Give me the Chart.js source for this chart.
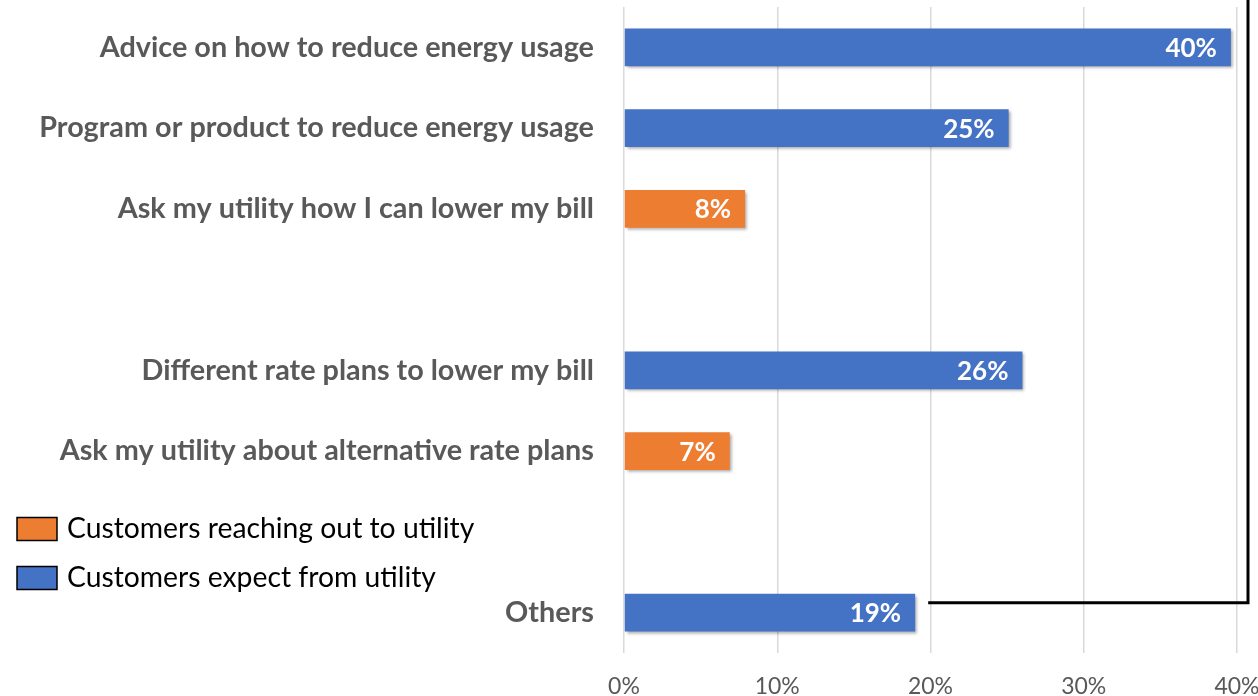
<!DOCTYPE html>
<html>
<head>
<meta charset="utf-8">
<script src="https://cdn.jsdelivr.net/npm/chart.js@4/dist/chart.umd.min.js"></script>
<style>
  html, body { margin: 0; padding: 0; background: #fff; }
  #wrap { position: relative; width: 1258px; height: 696px; }
  canvas { display: block; }
</style>
</head>
<body>
<div id="wrap"><canvas id="c" width="1258" height="696"></canvas></div>
<script>
const categories = [
  "Advice on how to reduce energy usage",
  "Program or product to reduce energy usage",
  "Ask my utility how I can lower my bill",
  "",
  "Different rate plans to lower my bill",
  "Ask my utility about alternative rate plans",
  "",
  "Others"
];
const reachingOut = [null, null, 7.9, null, null, 6.9, null, null];
const expectFrom = [39.6, 25.1, null, null, 26.0, null, null, 19.0];
const valueLabels = ["40%", "25%", "8%", "", "26%", "7%", "", "19%"];
const seriesNames = ["Customers reaching out to utility", "Customers expect from utility"];
const xTicks = [0, 10, 20, 30, 40];

const ORANGE = "#ED7D31";
const BLUE = "#4472C4";
const LABEL_FONT = "Lato, 'Open Sans', sans-serif";

const shadowPlugin = {
  id: "shadow",
  beforeDatasetsDraw(chart) {
    const ctx = chart.ctx;
    ctx.save();
    ctx.shadowColor = "rgba(0,0,0,0.35)";
    ctx.shadowOffsetX = 2;
    ctx.shadowOffsetY = 2;
    ctx.shadowBlur = 3;
  },
  afterDatasetsDraw(chart) {
    chart.ctx.restore();
  }
};

const extrasPlugin = {
  id: "extras",
  afterDatasetsDraw(chart) {
    const ctx = chart.ctx;
    const xs = chart.scales.x, ys = chart.scales.y;
    // value labels
    ctx.save();
    ctx.fillStyle = "#ffffff";
    ctx.font = "bold 26px " + LABEL_FONT;
    ctx.textAlign = "right";
    ctx.textBaseline = "middle";
    categories.forEach((c, i) => {
      const v = reachingOut[i] != null ? reachingOut[i] : expectFrom[i];
      if (v == null) return;
      const x = xs.getPixelForValue(v) - 14;
      const y = ys.getPixelForValue(i) + 1;
      ctx.fillText(valueLabels[i], x, y);
    });
    ctx.restore();

    // bracket line
    const last = categories.length - 1;
    const xStart = xs.getPixelForValue(expectFrom[last]) + 13;
    const yLine = ys.getPixelForValue(last) - 10;
    const xRight = xs.getPixelForValue(40) + 11;
    ctx.save();
    ctx.strokeStyle = "#000";
    ctx.lineWidth = 3;
    ctx.beginPath();
    ctx.moveTo(xStart, yLine);
    ctx.lineTo(xRight, yLine);
    ctx.lineTo(xRight, 0);
    ctx.stroke();
    ctx.restore();

    // legend
    ctx.save();
    const items = [[ORANGE, seriesNames[0], 529], [BLUE, seriesNames[1], 578]];
    items.forEach(([col, txt, cy]) => {
      ctx.fillStyle = col;
      ctx.fillRect(17, cy - 11.5, 40, 23);
      ctx.strokeStyle = "#000";
      ctx.lineWidth = 1.5;
      ctx.strokeRect(17, cy - 11.5, 40, 23);
      ctx.fillStyle = "#000";
      ctx.font = "28.3px " + LABEL_FONT;
      ctx.textAlign = "left";
      ctx.textBaseline = "middle";
      ctx.fillText(txt, 67, cy);
    });
    ctx.restore();
  }
};

new Chart(document.getElementById("c"), {
  type: "bar",
  data: {
    labels: categories,
    datasets: [
      { label: seriesNames[0], data: reachingOut, backgroundColor: ORANGE, barPercentage: 0.47, categoryPercentage: 1 },
      { label: seriesNames[1], data: expectFrom, backgroundColor: BLUE, barPercentage: 0.47, categoryPercentage: 1 }
    ]
  },
  options: {
    indexAxis: "y",
    responsive: false,
    animation: false,
    devicePixelRatio: 1,
    layout: { padding: { top: 7, right: 21, left: 0, bottom: 0 } },
    plugins: { legend: { display: false }, tooltip: { enabled: false } },
    scales: {
      x: {
        stacked: true,
        min: 0, max: 40,
        afterBuildTicks: s => { s.ticks = xTicks.map(v => ({ value: v })); },
        afterFit: s => { s.height = 43; s.paddingLeft = 0; s.paddingRight = 0; },
        grid: { color: "#d9d9d9", lineWidth: 1.5, drawTicks: false },
        border: { display: false },
        ticks: {
          padding: 20,
          color: "#595959",
          font: { family: LABEL_FONT, size: 23 },
          callback: v => v + "%"
        }
      },
      y: {
        stacked: true,
        afterFit: s => { s.width = 624; s.paddingTop = 0; s.paddingBottom = 0; },
        grid: { display: false, drawTicks: false },
        border: { display: false },
        ticks: {
          padding: 30,
          color: "#595959",
          font: { family: LABEL_FONT, size: 28.8, weight: "bold" },
          autoSkip: false
        }
      }
    }
  },
  plugins: [shadowPlugin, extrasPlugin]
});
</script>
</body>
</html>
